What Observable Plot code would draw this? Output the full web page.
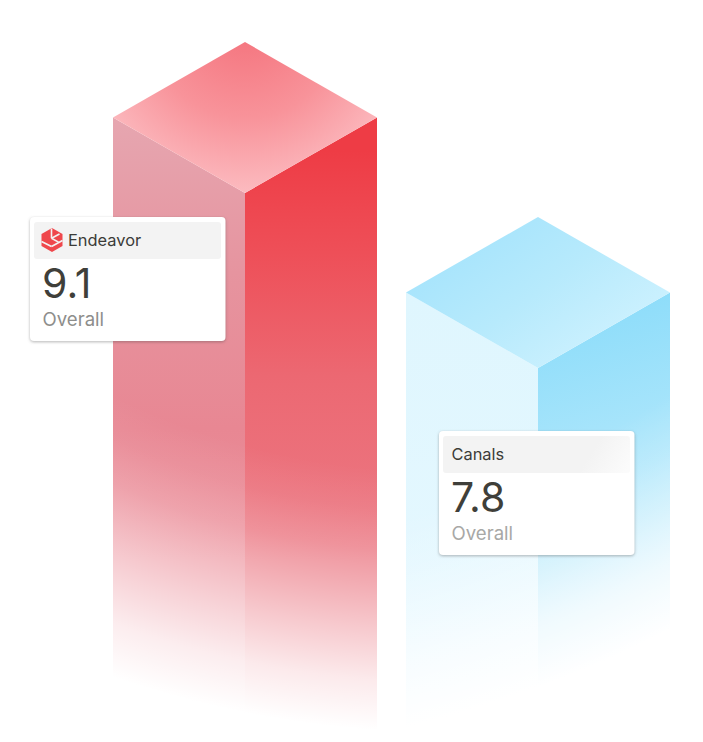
<!DOCTYPE html>
<html>
<head>
<meta charset="utf-8">
<script src="https://cdn.jsdelivr.net/npm/d3@7"></script>
<script src="https://cdn.jsdelivr.net/npm/@observablehq/plot@0.6"></script>
<style>
html,body{margin:0;padding:0;background:#fff}
svg{display:block}
</style>
</head>
<body>
<div id="chart"></div>
<script>
const tools = ["Endeavor", "Canals"];
const scores = [9.1, 7.8];
const scoreLabels = ["9.1", "7.8"];
const metric = "Overall";
const slots = [0, 1];

const W = 703, H = 742;
const pxPerSlot = 293, pxPerScore = 175 / 1.3;
const slot0Px = 245, refPx = 193;
const xDomain = [-slot0Px / pxPerSlot, (W - slot0Px) / pxPerSlot];
const yDomain = [9.1 - (H - refPx) / pxPerScore, 9.1 + refPx / pxPerScore];
const dxU = p => p / pxPerSlot;
const dyU = p => p / pxPerScore;

const halfW = dxU(132), rise = dyU(75.5);
const floorScore = yDomain[0];

const bars = tools.map((tool, i) => ({tool, score: scores[i], slot: slots[i], key: i ? "b" : "r"}));

function faces(b) {
  const c = b.slot, s = b.score;
  return {
    left: [{x: c - halfW, y1: floorScore, y2: s + rise}, {x: c, y1: floorScore, y2: s}],
    right: [{x: c, y1: floorScore, y2: s}, {x: c + halfW, y1: floorScore, y2: s + rise}],
    top: [
      {x: c - halfW, y1: s + rise, y2: s + rise},
      {x: c, y1: s, y2: s + 2 * rise},
      {x: c + halfW, y1: s + rise, y2: s + rise}
    ],
    fade: [
      {x: c - halfW - dxU(1), y1: floorScore, y2: s + rise},
      {x: c, y1: floorScore, y2: s},
      {x: c + halfW + dxU(1), y1: floorScore, y2: s + rise}
    ]
  };
}

const defsHtml = `
<linearGradient id="rLeft" gradientUnits="userSpaceOnUse" x1="0" y1="118" x2="0" y2="560">
  <stop offset="0" stop-color="#e6a6b0"/><stop offset=".35" stop-color="#e6949f"/>
  <stop offset=".7" stop-color="#e88793"/><stop offset="1" stop-color="#ec8f9a"/>
</linearGradient>
<linearGradient id="rRight" gradientUnits="userSpaceOnUse" x1="0" y1="150" x2="0" y2="560">
  <stop offset="0" stop-color="#ee3c45"/><stop offset=".25" stop-color="#ee4f58"/>
  <stop offset=".55" stop-color="#ec6872"/><stop offset="1" stop-color="#eb7a85"/>
</linearGradient>
<radialGradient id="rTop" gradientUnits="userSpaceOnUse" cx="245" cy="20" r="175">
  <stop offset="0" stop-color="#f4707a"/><stop offset=".56" stop-color="#f8939a"/>
  <stop offset="1" stop-color="#fcbcc1"/>
</radialGradient>
<radialGradient id="rFade" gradientUnits="userSpaceOnUse" cx="441" cy="-273" r="1005">
  <stop offset=".74" stop-color="#fff" stop-opacity="0"/>
  <stop offset=".78" stop-color="#fff" stop-opacity=".07"/>
  <stop offset=".82" stop-color="#fff" stop-opacity=".2"/>
  <stop offset=".86" stop-color="#fff" stop-opacity=".4"/>
  <stop offset=".9" stop-color="#fff" stop-opacity=".6"/>
  <stop offset=".95" stop-color="#fff" stop-opacity=".84"/>
  <stop offset="1" stop-color="#fff" stop-opacity="1"/>
</radialGradient>
<linearGradient id="bLeft" gradientUnits="userSpaceOnUse" x1="0" y1="293" x2="0" y2="700">
  <stop offset="0" stop-color="#dff6fe"/><stop offset="1" stop-color="#e6f8ff"/>
</linearGradient>
<linearGradient id="bRight" gradientUnits="userSpaceOnUse" x1="538" y1="330" x2="620" y2="600">
  <stop offset="0" stop-color="#8eddfa"/><stop offset=".45" stop-color="#a9e5fb"/>
  <stop offset="1" stop-color="#c8eefc"/>
</linearGradient>
<linearGradient id="bTop" gradientUnits="userSpaceOnUse" x1="505" y1="225" x2="590" y2="345">
  <stop offset="0" stop-color="#a9e5fc"/><stop offset=".5" stop-color="#b7eafc"/>
  <stop offset="1" stop-color="#c9f0fe"/>
</linearGradient>
<radialGradient id="bFade" gradientUnits="userSpaceOnUse" cx="122" cy="-438" r="1200">
  <stop offset=".83" stop-color="#fff" stop-opacity="0"/>
  <stop offset=".87" stop-color="#fff" stop-opacity=".16"/>
  <stop offset=".91" stop-color="#fff" stop-opacity=".42"/>
  <stop offset=".95" stop-color="#fff" stop-opacity=".72"/>
  <stop offset="1" stop-color="#fff" stop-opacity="1"/>
</radialGradient>
<linearGradient id="bHead" gradientUnits="userSpaceOnUse" x1="575" y1="440" x2="625" y2="472">
  <stop offset=".35" stop-color="#f3f3f3"/><stop offset="1" stop-color="#fbfbfb"/>
</linearGradient>`;

const defsMark = () => {
  const d = document.createElementNS("http://www.w3.org/2000/svg", "defs");
  d.innerHTML = defsHtml;
  return d;
};

const barMarks = bars.flatMap(b => {
  const f = faces(b);
  const area = (rows, id) => Plot.areaY(rows, {x: "x", y1: "y1", y2: "y2", fill: `url(#${b.key}${id})`});
  return [area(f.left, "Left"), area(f.right, "Right"), area(f.top, "Top"), area(f.fade, "Fade")];
});

// cards, positioned relative to each bar's slot and score
const cardOffset = [
  {left: 30 - 245, top: 217 - 193},
  {left: 439 - 538, top: 431 - 368}
];
const cards = bars.map((b, i) => {
  const o = cardOffset[i];
  return {...b, label: scoreLabels[i],
    x0: b.slot + dxU(o.left), y0: b.score - dyU(o.top), hasLogo: i === 0,
    metricFill: i === 0 ? "#8e8e8c" : "#a8a8a6",
    headFill: i === 0 ? "#f3f3f3" : "url(#bHead)"};
});
const cx = (c, p) => c.x0 + dxU(p);
const cy = (c, p) => c.y0 - dyU(p);

const cardRects = Plot.rect(cards, {
  x1: c => cx(c, 0), x2: c => cx(c, 195.5), y1: c => cy(c, 0), y2: c => cy(c, 124),
  fill: "#fff", rx: 4,
  imageFilter: "drop-shadow(0 1px 1.5px rgba(60,60,60,.38))"
});
const headerRects = Plot.rect(cards, {
  x1: c => cx(c, 4), x2: c => cx(c, 191), y1: c => cy(c, 5), y2: c => cy(c, 42),
  fill: "headFill", rx: 3
});
const fontFamily = "Inter, Roboto, sans-serif";
const nameText = Plot.text(cards, {
  x: c => cx(c, c.hasLogo ? 37.5 : 12), y: c => cy(c, 28.5), text: "tool",
  textAnchor: "start", lineAnchor: "bottom", fontSize: 16.4, fontFamily, fill: "#3b3b38"
});
const scoreText = Plot.text(cards, {
  x: c => cx(c, 11.5), y: c => cy(c, 80.5), text: "label",
  textAnchor: "start", lineAnchor: "bottom", fontSize: 41, fontFamily, fill: "#3f3f3a", letterSpacing: "-1.8px"
});
const metricText = Plot.text(cards, {
  x: c => cx(c, 12), y: c => cy(c, 108.5), text: () => metric,
  textAnchor: "start", lineAnchor: "bottom", fontSize: 18.6, fontFamily, fill: "metricFill"
});

// logo on the first card
const logoCard = cards.filter(c => c.hasLogo);
const logoDot = Plot.dot(logoCard, {
  x: c => cx(c, 21.5), y: c => cy(c, 22.5), symbol: "hexagon", r: 10.5, fill: "#ef474c", stroke: "none"
});
const slashPts = [[21, 11, 21, 20.7], [21, 20.7, 28, 24.6], [29, 16.5, 21, 20.7], [11, 24, 21, 29], [21, 29, 32, 23]];
const logoSlashes = Plot.link(slashPts, {
  x1: p => cx(logoCard[0], p[0]), y1: p => cy(logoCard[0], p[1]),
  x2: p => cx(logoCard[0], p[2]), y2: p => cy(logoCard[0], p[3]),
  stroke: "#f3f3f3", strokeWidth: 1.6
});

const chart = Plot.plot({
  width: W, height: H,
  marginTop: 0, marginRight: 0, marginBottom: 0, marginLeft: 0,
  x: {domain: xDomain, range: [0, W], axis: null},
  y: {domain: yDomain, range: [H, 0], axis: null},
  color: {type: "identity"},
  style: {background: "#fff", overflow: "hidden"},
  marks: [defsMark, ...barMarks, cardRects, headerRects, logoDot, logoSlashes, nameText, scoreText, metricText]
});
document.getElementById("chart").append(chart);
</script>
</body>
</html>
